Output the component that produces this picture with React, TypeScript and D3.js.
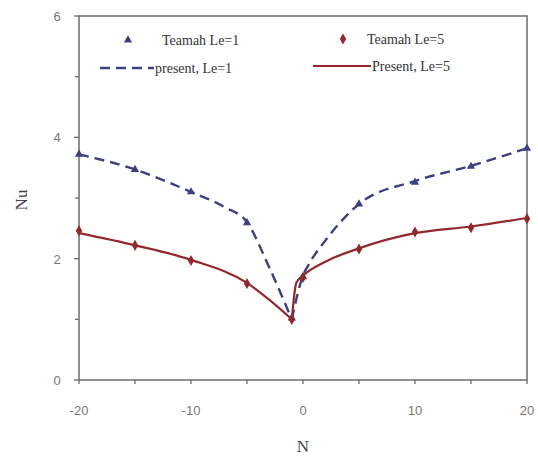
import * as React from 'react';
import * as d3 from 'd3';

// Teamah reference points
const teamahN = [-20, -15, -10, -5, -1, 0, 5, 10, 15, 20];
const teamahLe1 = [3.72, 3.47, 3.1, 2.59, 1.02, 1.7, 2.9, 3.26, 3.52, 3.82];
const teamahLe5 = [2.46, 2.22, 1.97, 1.59, 1.0, 1.69, 2.16, 2.44, 2.51, 2.66];

// present curves (split at the minimum N=-1)
const presentN1 = [-20, -15, -10, -7, -5, -3, -1, 0, 0.5, 2, 5, 10, 15, 20];
const presentLe1 = [3.72, 3.47, 3.1, 2.85, 2.6, 1.85, 1.0, 1.72, 1.9, 2.3, 2.9, 3.28, 3.53, 3.82];
const presentN5 = [-20, -15, -10, -5, -3, -1, -0.6, 0, 2, 5, 10, 15, 20];
const presentLe5 = [2.42, 2.22, 1.98, 1.6, 1.32, 1.0, 1.6, 1.72, 1.95, 2.17, 2.42, 2.53, 2.67];

const xTicks = [-20, -10, 0, 10, 20];
const xMinor = [-20, -15, -10, -5, 0, 5, 10, 15, 20];
const yTicks = [0, 2, 4, 6];
const yMinor = [1, 3, 5];

const BLUE = '#3d4080';
const RED = '#93292c';
const AXIS = '#6b6b6b';

export default function App() {
  const left = 79, right = 527, top = 16, bottom = 380;
  const x = d3.scaleLinear().domain([-20, 20]).range([left, right]);
  const y = d3.scaleLinear().domain([0, 6]).range([bottom, top]);

  const curve = d3.line<[number, number]>()
    .x(d => x(d[0]))
    .y(d => y(d[1]))
    .curve(d3.curveMonotoneX);

  // two branches meeting at the sharp minimum
  const branches = (ns: number[], vs: number[]) => {
    const pts: [number, number][] = ns.map((n, i) => [n, vs[i]]);
    const k = ns.indexOf(-1);
    return (curve(pts.slice(0, k + 1)) || '') + (curve(pts.slice(k)) || '');
  };

  const le1Path = branches(presentN1, presentLe1);
  const le5Path = branches(presentN5, presentLe5);

  const tri = d3.symbol().type(d3.symbolTriangle).size(30)() || '';
  const dia = d3.symbol().type(d3.symbolDiamond).size(36)() || '';

  const tickFont = 'Liberation Sans, Arial, sans-serif';
  const serif = 'Liberation Serif, Times New Roman, serif';

  return (
    <svg width={538} height={457} style={{ position: 'absolute', left: 0, top: 0 }}>
      <rect width={538} height={457} fill="#fff" />

      {/* frame */}
      <rect x={left} y={top} width={right - left} height={bottom - top}
        fill="none" stroke={AXIS} strokeWidth={1.5} />

      {/* y ticks */}
      {yTicks.map(t => (
        <g key={'y' + t}>
          <line x1={left - 5} x2={left} y1={y(t)} y2={y(t)} stroke={AXIS} strokeWidth={1.3} />
          <text x={57} y={y(t) + 5} textAnchor="middle" fontSize={13}
            fill="#777" fontFamily={tickFont}>{t}</text>
        </g>
      ))}
      {yMinor.map(t => (
        <line key={'ym' + t} x1={left - 4} x2={left} y1={y(t)} y2={y(t)} stroke={AXIS} strokeWidth={1.3} />
      ))}

      {/* x ticks */}
      {xMinor.map(t => (
        <line key={'xm' + t} x1={x(t)} x2={x(t)} y1={bottom} y2={bottom + 4} stroke={AXIS} strokeWidth={1.3} />
      ))}
      {xTicks.map(t => (
        <text key={'x' + t} x={x(t)} y={415} textAnchor="middle" fontSize={13}
          fill="#777" fontFamily={tickFont}>{t}</text>
      ))}

      {/* axis titles */}
      <text x={x(0)} y={452} textAnchor="middle" fontSize={17} fill="#444" fontFamily={serif}>N</text>
      <text transform={`translate(27, 200) rotate(-90)`} textAnchor="middle" fontSize={17}
        fill="#444" fontFamily={serif}>Nu</text>

      {/* present curves */}
      <path d={le1Path} fill="none" stroke={BLUE} strokeWidth={2.4} strokeDasharray="10,6" />
      <path d={le5Path} fill="none" stroke={RED} strokeWidth={2.2} strokeLinejoin="round" />

      {/* Teamah markers */}
      {teamahN.map((n, i) => (
        <path key={'t1' + n} d={tri} transform={`translate(${x(n)},${y(teamahLe1[i])})`} fill={BLUE} />
      ))}
      {teamahN.map((n, i) => (
        <path key={'t5' + n} d={dia} transform={`translate(${x(n)},${y(teamahLe5[i])})`} fill={RED} />
      ))}

      {/* legend */}
      <g fontFamily={serif} fontSize={14} fill="#333">
        <path d={tri} transform="translate(128,40)" fill={BLUE} />
        <text x={162} y={45}>Teamah Le=1</text>
        <line x1={100} x2={154} y1={68} y2={68} stroke={BLUE} strokeWidth={2.4} strokeDasharray="10,6" />
        <text x={155} y={73}>present, Le=1</text>

        <path d={dia} transform="translate(343,39)" fill={RED} />
        <text x={367} y={44}>Teamah  Le=5</text>
        <line x1={313} x2={371} y1={66} y2={66} stroke={RED} strokeWidth={2.2} />
        <text x={372} y={71}>Present, Le=5</text>
      </g>
    </svg>
  );
}
